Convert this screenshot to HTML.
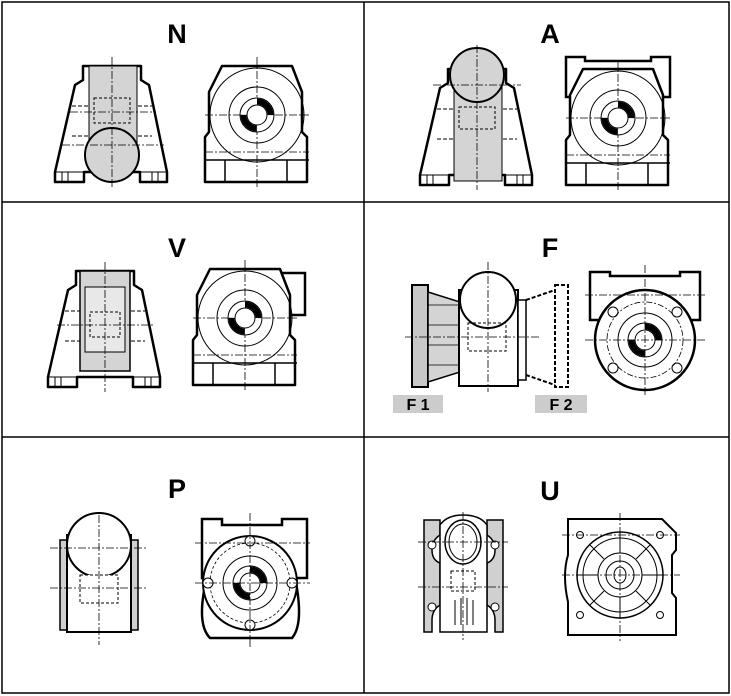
<!DOCTYPE html>
<html><head><meta charset="utf-8"><style>
html,body{margin:0;padding:0;background:#fff}
svg{display:block}
text{font-family:"Liberation Sans",sans-serif;font-weight:bold}
</style></head><body>
<svg width="731" height="696" viewBox="0 0 731 696" xmlns="http://www.w3.org/2000/svg">
<defs>
<g id="hub">
 <circle r="17" fill="#fff" stroke="#000" stroke-width="1"/>
 <circle r="13.5" fill="none" stroke="#000" stroke-width="6" stroke-dasharray="21.2 21.2" transform="rotate(-90)"/>
 <circle r="10" fill="#fff" stroke="#000" stroke-width="1"/>
</g>
<g id="ped">
 <path d="M-57,0 V-10 L-37,-97 L-29,-102 V-116 H29 V-102 L37,-97 L55,-10 V0 H28 V-10 H-28 V0 Z" fill="#fff" stroke="#000" stroke-width="2.5" stroke-linejoin="round"/>
 <path d="M-57,-10 H-28 M28,-10 H55 M-50,-10V0 M-44,-10V0 M40,-10V0 M46,-10V0" stroke="#000" stroke-width="1" fill="none"/>
 <path d="M-40,-76 H40 M-40,-46 H40" stroke="#000" stroke-width="1" stroke-dasharray="4 2" fill="none"/>
</g>
<g id="front">
 <path d="M-52,0 V-45 L-48,-50 V-90 L-35,-116 H35 L45,-90 V-50 L50,-45 V0 Z" fill="#fff" stroke="#000" stroke-width="2.5" stroke-linejoin="round"/>
 <circle cx="0" cy="-67" r="47" fill="none" stroke="#000" stroke-width="1"/>
 <circle cx="0" cy="-67" r="28" fill="none" stroke="#000" stroke-width="1"/>
 <path d="M-52,-22 H52 M-32,-22 V0 M30,-22 V0" stroke="#000" stroke-width="1.5" fill="none"/>
 <path d="M-52,-67 H52 M0,-125 V5 M-52,-30 H52" stroke="#000" stroke-width="0.8" stroke-dasharray="8 2 2 2" fill="none"/>
 <use href="#hub" x="0" y="-67"/>
</g>
</defs>

<g stroke="#000" stroke-width="1.5" fill="none">
<rect x="2" y="2" width="727" height="691"/>
<line x1="364" y1="2" x2="364" y2="693"/>
<line x1="2" y1="202" x2="729" y2="202"/>
<line x1="2" y1="437" x2="729" y2="437"/>
</g>

<g font-size="27" text-anchor="middle">
<text x="177" y="43">N</text>
<text x="550" y="43">A</text>
<text x="177" y="257">V</text>
<text x="550" y="257">F</text>
<text x="177" y="498">P</text>
<text x="550" y="500">U</text>
</g>

<g transform="translate(112,182)">
 <use href="#ped"/>
 <rect x="-23" y="-116" width="48" height="90" fill="#d4d4d4" stroke="#000" stroke-width="1"/>
 <circle cx="0" cy="-27" r="27" fill="#d4d4d4" stroke="#000" stroke-width="2"/>
 <rect x="-18" y="-84" width="36" height="25" fill="none" stroke="#000" stroke-dasharray="3 2"/>
 <path d="M0,-125 V5 M-42,-70 H44 M-50,-37 H52" stroke="#000" stroke-width="0.8" stroke-dasharray="8 2 2 2"/>
</g>
<use href="#front" x="257" y="182"/>

<g transform="translate(477,185)">
 <use href="#ped"/>
 <rect x="-23" y="-116" width="48" height="112" fill="#d4d4d4" stroke="#000" stroke-width="1"/>
 <circle cx="0" cy="-110" r="27" fill="#d4d4d4" stroke="#000" stroke-width="2"/>
 <rect x="-18" y="-78" width="36" height="22" fill="none" stroke="#000" stroke-dasharray="3 2"/>
 <path d="M0,-140 V5 M-44,-100 H44" stroke="#000" stroke-width="0.8" stroke-dasharray="8 2 2 2"/>
</g>
<g transform="translate(618,185)">
 <path d="M-52,-128 H-33 V-124 H33 V-128 H52 V-88 H-52 Z" fill="#fff" stroke="#000" stroke-width="2.5"/>
 <use href="#front"/>
</g>

<g transform="translate(105,387)">
 <use href="#ped"/>
 <rect x="-25" y="-116" width="50" height="100" fill="#d4d4d4" stroke="#000" stroke-width="1.5"/>
 <rect x="-20" y="-100" width="40" height="65" fill="#e8e8e8" stroke="#000" stroke-width="1"/>
 <rect x="-15" y="-75" width="30" height="25" fill="none" stroke="#000" stroke-dasharray="3 2"/>
 <path d="M0,-125 V5 M-48,-62 H50" stroke="#000" stroke-width="0.8" stroke-dasharray="8 2 2 2"/>
</g>
<g transform="translate(245,385)">
 <path d="M20,-112 H60 V-70 H40 Z" fill="#fff" stroke="#000" stroke-width="2.5"/>
 <use href="#front"/>
</g>

<rect x="412" y="285" width="16" height="102" fill="#c8c8c8" stroke="#000" stroke-width="2"/>
<path d="M428,292 L460,302 V372 L428,382 Z" fill="#d4d4d4" stroke="#000" stroke-width="1.5"/>
<path d="M428,305 H460 M428,325 H460 M428,345 H460 M428,365 H460" stroke="#000" stroke-width="0.8"/>
<rect x="459" y="290" width="59" height="96" fill="#fff" stroke="#000" stroke-width="2"/>
<circle cx="488" cy="300" r="28" fill="#fff" stroke="#000" stroke-width="2"/>
<rect x="518" y="300" width="8" height="80" fill="#fff" stroke="#000" stroke-width="1.5"/>
<rect x="468" y="323" width="38" height="28" fill="none" stroke="#000" stroke-dasharray="3 2"/>
<path d="M526,300 L555,290 M526,375 L555,385" stroke="#000" stroke-width="2" stroke-dasharray="4 2"/>
<rect x="555" y="285" width="13" height="102" fill="none" stroke="#000" stroke-width="2" stroke-dasharray="4 2"/>
<path d="M488,262 V392 M405,337 H540" stroke="#000" stroke-width="0.8" stroke-dasharray="8 2 2 2"/>
<rect x="393" y="395" width="50" height="18" fill="#ccc"/>
<rect x="535" y="395" width="52" height="18" fill="#ccc"/>
<text x="418" y="410" font-size="16" text-anchor="middle">F 1</text>
<text x="561" y="410" font-size="16" text-anchor="middle">F 2</text>
<g transform="translate(645,340)">
 <path d="M-55,-68 H-35 V-64 H35 V-68 H55 V-20 H-55 Z" fill="#fff" stroke="#000" stroke-width="2.5"/>
 <circle r="50" fill="#fff" stroke="#000" stroke-width="2.5"/>
 <circle r="38" fill="none" stroke="#000" stroke-width="0.8" stroke-dasharray="6 2 2 2"/>
 <circle r="27" fill="none" stroke="#000" stroke-width="1"/>
 <g fill="none" stroke="#000"><circle cx="-32" cy="-28" r="5"/><circle cx="32" cy="-28" r="5"/><circle cx="-32" cy="28" r="5"/><circle cx="32" cy="28" r="5"/></g>
 <use href="#hub"/>
 <path d="M0,-75 V55 M-60,0 H60 M-60,-45 H60" stroke="#000" stroke-width="0.8" stroke-dasharray="8 2 2 2"/>
</g>

<g>
 <rect x="60" y="540" width="12" height="90" fill="#d0d0d0" stroke="#000" stroke-width="1.5"/>
 <rect x="126" y="540" width="12" height="90" fill="#d0d0d0" stroke="#000" stroke-width="1.5"/>
 <rect x="67" y="535" width="64" height="97" fill="#fff" stroke="#000" stroke-width="2"/>
 <circle cx="99" cy="545" r="32" fill="#fff" stroke="#000" stroke-width="2"/>
 <rect x="72" y="575" width="54" height="57" fill="#fff" stroke="none"/>
 <line x1="67" y1="632" x2="131" y2="632" stroke="#000" stroke-width="2"/>
 <rect x="80" y="575" width="38" height="28" fill="none" stroke="#000" stroke-dasharray="3 2"/>
 <path d="M99,515 V645 M50,548 H148 M50,588 H148" stroke="#000" stroke-width="0.8" stroke-dasharray="8 2 2 2"/>
</g>
<g transform="translate(250,583)">
 <path d="M-48,-64 H-28 V-58 H32 V-64 H57 V-5 H-48 Z" fill="#fff" stroke="#000" stroke-width="2.5"/>
 <path d="M-42,-10 Q-55,40 -40,55 H42 Q55,40 44,-10" fill="#fff" stroke="#000" stroke-width="2.5"/>
 <circle r="47" fill="#fff" stroke="#000" stroke-width="2"/>
 <circle r="40" fill="none" stroke="#000" stroke-width="0.8" stroke-dasharray="3 2"/>
 <circle r="27" fill="none" stroke="#000" stroke-width="1"/>
 <g fill="#fff" stroke="#000"><circle cy="-42" r="5"/><circle cy="42" r="5"/><circle cx="-42" r="5"/><circle cx="42" r="5"/></g>
 <use href="#hub"/>
 <path d="M0,-70 V65 M-55,0 H60 M-55,-40 H60" stroke="#000" stroke-width="0.8" stroke-dasharray="8 2 2 2"/>
</g>

<g stroke="#000" stroke-width="1.5">
 <path d="M424,520 H440 V535 Q432,540 432,550 Q432,560 440,563 V605 Q432,610 432,620 V632 H424 Z" fill="#d0d0d0"/>
 <path d="M503,520 H487 V535 Q495,540 495,550 Q495,560 487,563 V605 Q495,610 495,620 V632 H503 Z" fill="#d0d0d0"/>
 <path d="M440,632 V525 Q447,515 463,515 Q480,515 487,525 V632 Z" fill="#fff"/>
 <ellipse cx="463" cy="542" rx="18" ry="22" fill="none"/>
 <ellipse cx="463" cy="542" rx="14" ry="18" fill="none" stroke-width="1"/>
 <rect x="451" y="571" width="24" height="20" fill="none" stroke-width="1" stroke-dasharray="3 2"/>
 <path d="M455,600 V625 M461,598 V625 M467,598 V625 M473,600 V625" stroke-width="1" fill="none"/>
 <circle cx="432" cy="545" r="4" fill="#fff" stroke-width="1"/><circle cx="495" cy="545" r="4" fill="#fff" stroke-width="1"/>
 <circle cx="432" cy="607" r="4" fill="#fff" stroke-width="1"/><circle cx="495" cy="607" r="4" fill="#fff" stroke-width="1"/>
</g>
<path d="M463,512 V640 M418,542 H508 M418,587 H508" stroke="#000" stroke-width="0.8" stroke-dasharray="8 2 2 2"/>
<g transform="translate(620,575)" stroke="#000">
 <path d="M-52,-56 H42 L56,-42 V-25 L52,-20 V18 L56,23 V60 H-52 V27 Q-58,0 -52,-20 Z" fill="#fff" stroke-width="2"/>
 <circle r="43" fill="none" stroke-width="1.5"/>
 <circle r="37" fill="none" stroke-width="1"/>
 <circle r="22" fill="none" stroke-width="1"/>
 <circle r="14" fill="none" stroke-width="1"/>
 <ellipse rx="6" ry="8" fill="none" stroke-width="1"/>
 <path d="M0,-43 V-22 M0,22 V43 M-43,0 H-22 M22,0 H43 M-30,-30 L-16,-16 M30,-30 L16,-16 M-30,30 L-16,16 M30,30 L16,16" stroke-width="1"/>
 <g fill="none" stroke-width="1"><circle cx="-40" cy="-40" r="3.5"/><circle cx="40" cy="-40" r="3.5"/><circle cx="-40" cy="40" r="3.5"/><circle cx="40" cy="40" r="3.5"/></g>
 <path d="M0,-62 V66 M-58,0 H60 M-58,-40 H60" stroke-width="0.8" stroke-dasharray="8 2 2 2" fill="none"/>
</g>
</svg>
</body></html>
